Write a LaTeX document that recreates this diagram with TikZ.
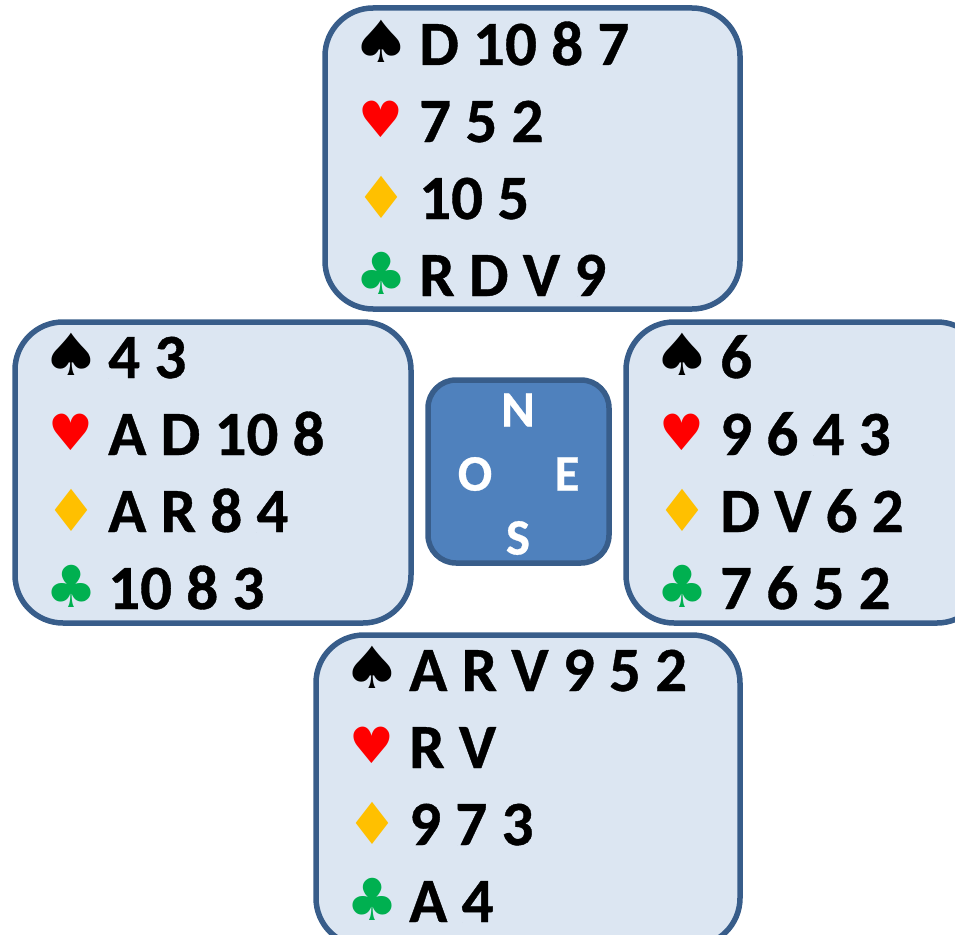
\documentclass[tikz,border=0pt]{standalone}
\usepackage{fontspec}
\setmainfont{Carlito}[BoldFeatures={FakeBold=0.6}]
\newfontfamily\suitfont{DejaVu Sans}
\usetikzlibrary{positioning}

\begin{document}
\begin{tikzpicture}[x=1pt,y=-1pt]
\definecolor{Hand_fill}{RGB}{220,230,242}
\definecolor{Hand_line}{RGB}{56,93,138}
\definecolor{Table_fill}{RGB}{79,129,189}
\definecolor{Heart_red}{RGB}{255,0,0}
\definecolor{Diamond_gold}{RGB}{255,192,0}
\definecolor{Club_green}{RGB}{0,176,80}
\tikzset{
    hand/.style={draw=Hand_line, fill=Hand_fill, line width=5.5pt, rounded corners=48pt},
    cards/.style={anchor=base west, inner sep=0pt, font=\fontsize{63}{63}\bfseries\selectfont},
    suit/.style={anchor=center, inner sep=0pt, font=\fontsize{58}{58}\suitfont\selectfont},
    wind/.style={anchor=center, inner sep=0pt, text=white, font=\fontsize{51}{51}\bfseries\selectfont}
}
\useasboundingbox (0,0) rectangle (955,934);
\clip (0,0) rectangle (955,934);

% Haende
\foreach \name/\xa/\ya/\xb/\yb in {north/325/8/740/309, west/15/322/411/623, east/626/322/985/623, south/316/635/740/946} {
    \draw[hand] (\xa,\ya) rectangle (\xb,\yb) coordinate (\name corner);
}

% Karten
\foreach \name/\xs/\xt/\yt/\sa/\sb/\sc/\sd in {
    north/381/419/65/{D 10 8 7}/{7 5 2}/{10 5}/{R D V 9},
    west/71/108/378/{4 3}/{A D 10 8}/{A R 8 4}/{10 8 3},
    east/682/720/378/{6}/{9 6 4 3}/{D V 6 2}/{7 6 5 2},
    south/372/409/691/{A R V 9 5 2}/{R V}/{9 7 3}/{A 4}} {
    \node[suit, text=black, xscale=1.15] (\name S) at (\xs,\yt-24) {♠};
    \node[suit, text=Heart_red, font=\fontsize{50}{50}\suitfont\selectfont] (\name H) at (\xs,\yt+77-23) {♥};
    \node[suit, text=Diamond_gold] (\name D) at (\xs,\yt+154-22) {♦};
    \node[suit, text=Club_green] (\name C) at (\xs,\yt+231-23) {♣};
    \node[cards] (\name A) at (\xt,\yt) {\sa};
    \node[cards] (\name B) at (\xt,\yt+77) {\sb};
    \node[cards] (\name E) at (\xt,\yt+154) {\sc};
    \node[cards] (\name F) at (\xt,\yt+231) {\sd};
}

% Tisch
\draw[draw=Hand_line, fill=Table_fill, line width=5.5pt, rounded corners=28pt] (428,380) rectangle (609,563);
\node[wind] (windN) at (518,410) {N};
\node[wind] (windO) at (475,474) {O};
\node[wind] (windE) at (567,474) {E};
\node[wind] (windS) at (518,538) {S};
\end{tikzpicture}
\end{document}
